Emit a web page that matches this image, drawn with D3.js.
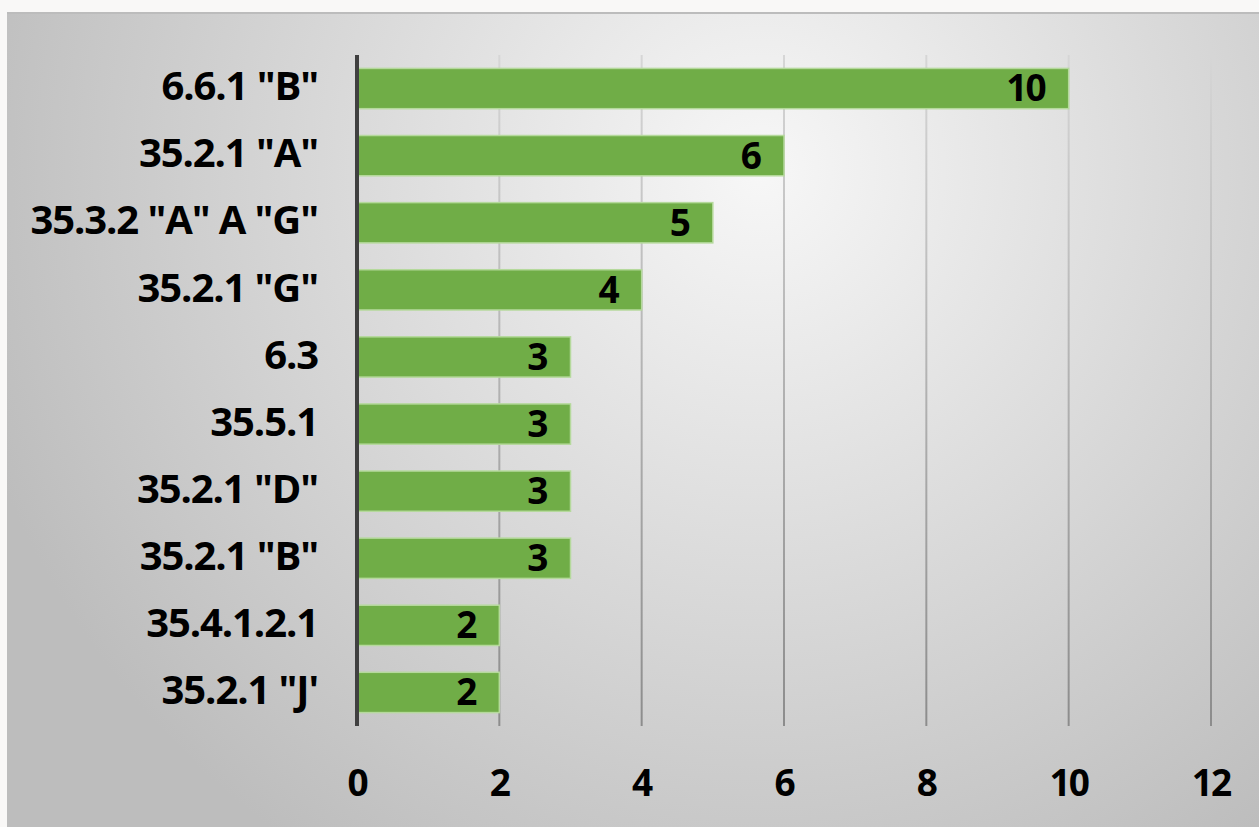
<!DOCTYPE html>
<html>
<head>
<meta charset="utf-8">
<script src="https://cdn.jsdelivr.net/npm/d3@7"></script>
<style>
  body { margin: 0; background: #f9f8f7; }
  svg { display: block; }
  text { font-family: "Open Sans", Lato, sans-serif; font-weight: 700; fill: #000; }
</style>
</head>
<body>
<svg id="chart"></svg>
<script>
const categories = ['6.6.1 "B"', '35.2.1 "A"', '35.3.2 "A" A "G"', '35.2.1 "G"', '6.3',
    '35.5.1', '35.2.1 "D"', '35.2.1 "B"', '35.4.1.2.1', '35.2.1 "J\''];
const values = [10, 6, 5, 4, 3, 3, 3, 3, 2, 2];
const xTicks = [0, 2, 4, 6, 8, 10, 12];

const width = 1259, height = 827;
const margin = { top: 55, right: 48, bottom: 101, left: 357 };

const svg = d3.select("#chart")
    .attr("width", width)
    .attr("height", height);

const defs = svg.append("defs");

const bg = defs.append("radialGradient")
    .attr("id", "bg")
    .attr("gradientUnits", "userSpaceOnUse")
    .attr("cx", 760).attr("cy", 170).attr("r", 820);
bg.append("stop").attr("offset", "0%").attr("stop-color", "#f7f7f7");
bg.append("stop").attr("offset", "100%").attr("stop-color", "#bdbdbd");

const gridGrad = defs.append("linearGradient")
    .attr("id", "gridGrad")
    .attr("gradientUnits", "userSpaceOnUse")
    .attr("x1", 0).attr("y1", margin.top).attr("x2", 0).attr("y2", height - margin.bottom);
gridGrad.append("stop").attr("offset", "0%").attr("stop-color", "#d6d6d6");
gridGrad.append("stop").attr("offset", "100%").attr("stop-color", "#8c8c8c");

// chart panel
svg.append("rect")
    .attr("x", 7).attr("y", 13)
    .attr("width", width - 7).attr("height", height - 13)
    .attr("fill", "url(#bg)");
svg.append("line")
    .attr("x1", 7).attr("x2", width)
    .attr("y1", 13).attr("y2", 13)
    .attr("stroke", "#bcbcbc").attr("stroke-width", 2);

const x = d3.scaleLinear()
    .domain([0, 12])
    .range([margin.left, width - margin.right]);

const y = d3.scaleBand()
    .domain(categories)
    .range([margin.top, height - margin.bottom])
    .paddingInner(0.4)
    .paddingOuter(0.2);

// gridlines
svg.append("g")
    .selectAll("line")
    .data(xTicks.slice(1))
    .join("line")
    .attr("x1", d => x(d)).attr("x2", d => x(d))
    .attr("y1", margin.top).attr("y2", height - margin.bottom)
    .attr("stroke", "url(#gridGrad)")
    .attr("stroke-width", 2);

// bars
svg.append("g")
    .selectAll("rect")
    .data(values)
    .join("rect")
    .attr("x", x(0))
    .attr("y", (d, i) => y(categories[i]))
    .attr("width", d => x(d) - x(0))
    .attr("height", y.bandwidth())
    .attr("fill", "#70ad47")
    .attr("stroke", "#b5d99c")
    .attr("stroke-width", 1.5);

// value labels
svg.append("g")
    .selectAll("text")
    .data(values)
    .join("text")
    .attr("x", d => x(d) - 24)
    .attr("y", (d, i) => y(categories[i]) + y.bandwidth() / 2 + 3)
    .attr("text-anchor", "end")
    .attr("dominant-baseline", "middle")
    .attr("font-size", 37)
    .attr("letter-spacing", -2)
    .text(d => d);

// y axis line
svg.append("line")
    .attr("x1", x(0)).attr("x2", x(0))
    .attr("y1", margin.top).attr("y2", height - margin.bottom)
    .attr("stroke", "#404040").attr("stroke-width", 4);

// category labels
svg.append("g")
    .selectAll("text")
    .data(categories)
    .join("text")
    .attr("x", 318)
    .attr("y", d => y(d) + y.bandwidth() / 2 + 1)
    .attr("text-anchor", "end")
    .attr("dominant-baseline", "middle")
    .attr("font-size", 40)
    .attr("letter-spacing", -1.1)
    .text(d => d);

// x tick labels
svg.append("g")
    .selectAll("text")
    .data(xTicks)
    .join("text")
    .attr("x", d => x(d))
    .attr("y", 786)
    .attr("text-anchor", "middle")
    .attr("dominant-baseline", "middle")
    .attr("font-size", 37)
    .attr("letter-spacing", -2)
    .text(d => d);
</script>
</body>
</html>
